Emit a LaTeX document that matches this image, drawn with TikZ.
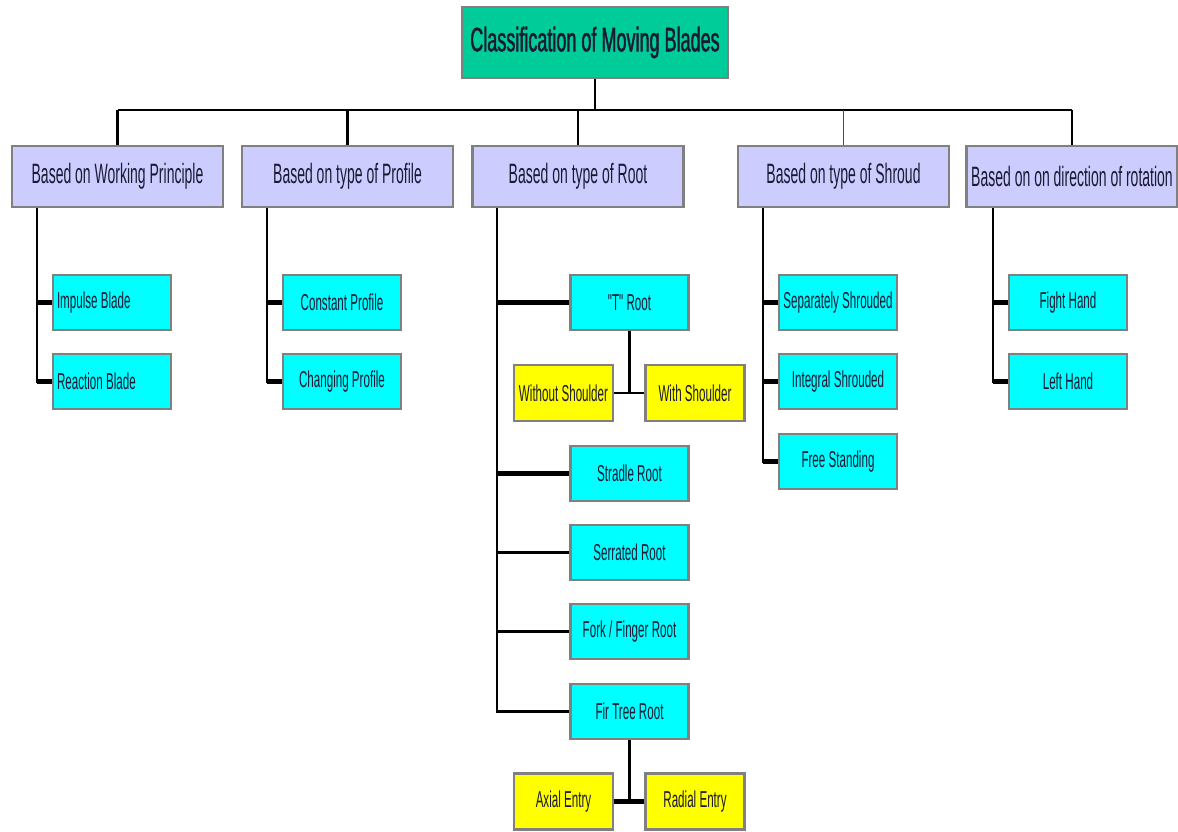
\documentclass[tikz,border=0pt]{standalone}
\usepackage{fontspec}
\newfontfamily\condT[FakeStretch=0.53,FakeBold=1.2]{Liberation Sans}
\newfontfamily\condC[FakeStretch=0.5]{Liberation Sans}
\newfontfamily\cond[FakeStretch=0.505]{Liberation Sans}
\newcommand{\leftlbl}[1]{\makebox[110pt][l]{#1}}
\definecolor{teal1}{HTML}{00CC99}
\definecolor{lav}{HTML}{CCCCFF}
\definecolor{cyn}{HTML}{00FFFF}
\definecolor{yel}{HTML}{FFFF00}
\definecolor{bord}{HTML}{808080}
\definecolor{txt}{HTML}{1A1A33}
\tikzset{
  base/.style={draw=bord, line width=2.5pt, rectangle, inner sep=0pt, text=txt, align=center},
  titlebox/.style={base, fill=teal1, minimum width=266pt, minimum height=71pt, font=\condT\fontsize{34}{36}\selectfont},
  catbox/.style={base, fill=lav, minimum width=211pt, minimum height=61pt, font=\condC\fontsize{28}{30}\selectfont},
  leafbox/.style={base, fill=cyn, minimum width=118pt, minimum height=55pt, font=\cond\fontsize{23}{25}\selectfont},
  subbox/.style={base, fill=yel, minimum width=99pt, minimum height=56pt, font=\cond\fontsize{23}{25}\selectfont},
  conn/.style={draw=black, line width=2.5pt},
  stub/.style={draw=black, line width=4.5pt},
}
\begin{document}
\begin{tikzpicture}[x=1pt,y=-1pt]
\useasboundingbox[fill=white] (0,0) rectangle (1178,831);
% title
\node[titlebox] (title) at (595,42.5) {Classification of Moving Blades};
% categories
\node[catbox] (b1) at (117.5,176.5) {Based on Working Principle};
\node[catbox] (b2) at (347.5,176.5) {Based on type of Profile};
\node[catbox] (b3) at (578,176.5) {Based on type of Root};
\node[catbox] (b4) at (843.5,176.5) {Based on type of Shroud};
\node[catbox] (b5) at (1072,176.5) {Based on on direction of rotation};
% bus
\coordinate (bus) at (0,110);
\draw[conn] (title.south) -- (title.south |- bus);
\draw[conn] (b1.north |- bus) -- (b5.north |- bus);
\foreach \b in {b1,b2,b3,b5}{\draw[conn] (\b.north |- bus) -- (\b.north);}
\draw[draw=black!70, line width=1.5pt] (b4.north |- bus) -- (b4.north);
% stems
\coordinate (s1) at (37,0);
\coordinate (s2) at (267,0);
\coordinate (s3) at (497,0);
\coordinate (s4) at (763,0);
\coordinate (s5) at (993,0);
% B1 children
\node[leafbox] (c11) at (112,302.5) {\leftlbl{Impulse Blade}};
\node[leafbox] (c12) at (112,381.5) {\leftlbl{Reaction Blade}};
% B2 children
\node[leafbox] (c21) at (342,302.5) {Constant Profile};
\node[leafbox] (c22) at (342,381.5) {Changing Profile};
% B3 children
\node[leafbox] (c31) at (629.5,302.5) {"T" Root};
\node[subbox] (wos) at (563.5,393) {Without Shoulder};
\node[subbox] (ws) at (695,393) {With Shoulder};
\node[leafbox] (c32) at (629.5,473.5) {Stradle Root};
\node[leafbox] (c33) at (629.5,552.5) {Serrated Root};
\node[leafbox] (c34) at (629.5,631.5) {Fork / Finger Root};
\node[leafbox] (c35) at (629.5,711.5) {Fir Tree Root};
\node[subbox] (ax) at (563.5,801.5) {Axial Entry};
\node[subbox] (ra) at (695,801.5) {Radial Entry};
% B4 children
\node[leafbox] (c41) at (838,302.5) {Separately Shrouded};
\node[leafbox] (c42) at (838,381.5) {Integral Shrouded};
\node[leafbox] (c43) at (838,461.5) {Free Standing};
% B5 children
\node[leafbox] (c51) at (1068,302.5) {Fight Hand};
\node[leafbox] (c52) at (1068,381.5) {Left Hand};
% connectors B1
\draw[conn] (s1 |- b1.south) |- (c12.west);
\draw[stub] (s1 |- c11.west) -- (c11.west);
\draw[stub] (s1 |- c12.west) -- (c12.west);
% B2
\draw[conn] (s2 |- b2.south) |- (c22.west);
\draw[stub] (s2 |- c21.west) -- (c21.west);
\draw[stub] (s2 |- c22.west) -- (c22.west);
% B3
\draw[conn] (s3 |- b3.south) |- (c35.west);
\draw[stub] (s3 |- c31.west) -- (c31.west);
\draw[stub] (s3 |- c32.west) -- (c32.west);
\draw[conn] (s3 |- c33.west) -- (c33.west);
\draw[conn] (s3 |- c34.west) -- (c34.west);
\draw[conn] (c31.south) -- (c31.south |- ws.west);
\draw[conn] (wos.east) -- (ws.west);
\draw[conn] (c35.south) -- (c35.south |- ra.west);
\draw[stub] (ax.east) -- (ra.west);
% B4
\draw[conn] (s4 |- b4.south) |- (c43.west);
\draw[stub] (s4 |- c41.west) -- (c41.west);
\draw[stub] (s4 |- c42.west) -- (c42.west);
\draw[stub] (s4 |- c43.west) -- (c43.west);
% B5
\draw[conn] (s5 |- b5.south) |- (c52.west);
\draw[stub] (s5 |- c51.west) -- (c51.west);
\draw[stub] (s5 |- c52.west) -- (c52.west);
\end{tikzpicture}
\end{document}
